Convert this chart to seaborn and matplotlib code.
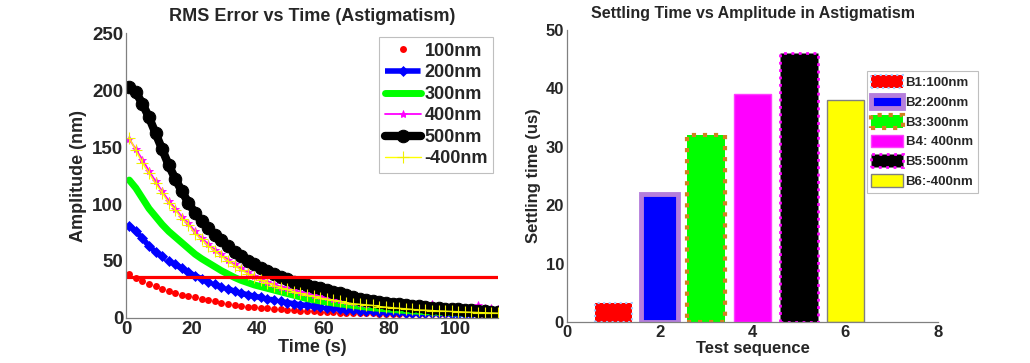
import numpy as np
import pandas as pd
import matplotlib
matplotlib.use("Agg")
import matplotlib.pyplot as plt
import seaborn as sns

# time axis (s), one sample every 2 s
time_s = np.arange(1, 114, 2)

amp_100 = [39, 35, 32.5, 30, 28, 25.5, 23.5, 22, 20.5, 19.5, 18, 17, 16, 14.5, 13.5, 12.5, 11.5, 10.5, 10,
           9.5, 9, 8.5, 8, 7.8, 7.3, 6.9, 6.5, 6.1, 5.8, 5.5, 5.2, 4.9, 4.6, 4.4, 4.3, 4.2, 4.1, 4.0, 3.9,
           3.8, 3.7, 3.6, 3.5, 3.5, 3.4, 3.4, 3.3, 3.3, 3.2, 3.2, 3.2, 3.1, 3.1, 3.0, 3.0, 3.0, 3.0]
amp_200 = [81, 76, 70, 63, 58, 54, 50, 47, 43.5, 40, 37, 34.5, 32, 29.5, 27.5, 25.5, 23.5, 21.5, 20.5,
           19, 18, 17, 15.5, 14.5, 13.5, 12.5, 11.5, 11, 10.2, 9.6, 9, 8.4, 7.8, 7.3, 6.9, 6.5, 6.2, 5.9,
           5.6, 5.4, 5.2, 5.0, 4.8, 4.6, 4.5, 4.3, 4.2, 4.1, 4.0, 3.9, 3.8, 3.7, 3.7, 3.6, 3.6, 3.5, 3.5]
amp_300 = [121, 114, 105, 96, 89, 82, 76, 71, 66, 61, 56, 52, 48.5, 45, 41.5, 38.5, 35.5, 33, 31,
           29, 27.5, 26, 24.5, 23, 21.5, 20, 18.5, 17, 16, 15, 14, 13.2, 12.4, 11.7, 11, 10.3, 9.6, 9,
           8.5, 8, 7.5, 7, 6.6, 6.2, 5.9, 5.6, 5.3, 5.1, 4.9, 4.7, 4.5, 4.4, 4.2, 4.1, 4.0, 3.9, 3.8]
amp_400 = [157, 148, 139, 129, 120, 111, 103, 96, 89, 83, 76, 70, 65, 60, 56, 51, 47, 43.5, 40,
           37, 34.5, 32, 29.5, 27.5, 26, 24.5, 23, 21.5, 20.5, 19, 18, 17, 15.5, 14.5, 14, 13, 12.5, 12,
           11, 11.5, 10, 10.5, 9.5, 9, 10, 11.5, 12.5, 9.5, 9, 10, 9, 8.5, 9, 11, 9, 8.5, 8]
amp_500 = [203, 198, 188, 176, 162, 148, 134, 122, 111, 101, 92, 85, 79, 73, 68, 63, 58, 54, 50,
           47, 44, 41.5, 38.5, 36, 34, 32, 30.5, 29, 27.5, 26, 24.5, 23, 21.5, 20, 18.5, 17, 16, 15,
           14, 13.3, 12.6, 12, 11.5, 10.8, 10.2, 9.6, 9.1, 8.7, 8.3, 7.9, 7.5, 7.1, 6.8, 6.4, 6, 5.6, 5.2]
amp_m400 = [158, 147, 136, 127, 118, 110, 101, 95, 87, 82, 74, 69, 63, 59, 54, 50, 46, 42, 39,
            36, 33, 31, 28.5, 26.5, 25, 23, 21.5, 20, 19, 17.5, 16.5, 15.5, 14.5, 13.5, 12.5, 12, 11.5, 11,
            10, 9.5, 9, 8.5, 8, 7.5, 7, 6.8, 6.5, 6.2, 6, 5.7, 5.5, 5.2, 5, 4.8, 4.6, 4.4, 4.2]
threshold = 36

# bar chart
test_seq = [1, 2, 3, 4, 5, 6]
settle_us = [3.3, 22, 32, 39, 46, 38]
bar_labels = ["B1:100nm", "B2:200nm", "B3:300nm", "B4: 400nm", "B5:500nm", "B6:-400nm"]
bar_colors = ["#ff0000", "#0000ff", "#00ff00", "#ff00ff", "#000000", "#ffff00"]

sns.set_theme(style="white")
plt.rcParams["font.family"] = ["Liberation Sans", "DejaVu Sans"]
plt.rcParams["font.weight"] = "bold"
plt.rcParams["axes.labelweight"] = "bold"
plt.rcParams["axes.titleweight"] = "bold"

fig = plt.figure(figsize=(10.3, 3.63), dpi=100)
ax1 = fig.add_axes([0.1223, 0.124, 0.361, 0.785])
ax2 = fig.add_axes([0.5502, 0.113, 0.3608, 0.804])

# left: RMS error vs time
sns.lineplot(x=time_s, y=amp_100, ax=ax1, color="#ff0000", linestyle="none", marker="o",
             markersize=5, markeredgewidth=0, label="100nm")
sns.lineplot(x=time_s, y=amp_200, ax=ax1, color="#0000ff", linestyle="-.", linewidth=4,
             marker="D", markersize=5.5, markeredgecolor="#0000ff", markeredgewidth=0.5, label="200nm")
sns.lineplot(x=time_s, y=amp_300, ax=ax1, color="#00ff00", linewidth=5, label="300nm")
sns.lineplot(x=time_s, y=amp_400, ax=ax1, color="#ff00ff", linewidth=1.3, marker="*",
             markersize=6, markeredgecolor="#ff00ff", markeredgewidth=0.6, label="400nm")
sns.lineplot(x=time_s, y=amp_500, ax=ax1, color="#000000", linewidth=6, marker="o",
             markersize=9, markeredgecolor="#000000", label="500nm")
sns.lineplot(x=time_s, y=amp_m400, ax=ax1, color="#ffff00", linewidth=1, marker="+",
             markersize=9, markeredgecolor="#f0f000", markeredgewidth=0.8, label="-400nm")
ax1.axhline(threshold, color="#ff0000", linewidth=2.3)

ax1.set_xlim(0, 113)
ax1.set_ylim(0, 250)
ax1.set_xticks([0, 20, 40, 60, 80, 100])
ax1.set_yticks([0, 50, 100, 150, 200, 250])
ax1.set_title("RMS Error vs Time (Astigmatism)", fontsize=13, pad=9)
ax1.set_xlabel("Time (s)", fontsize=13, labelpad=1)
ax1.set_ylabel("Amplitude (nm)", fontsize=13, labelpad=4)
ax1.tick_params(labelsize=13.5, direction="in", length=3, color="#808080", pad=2)
leg1 = ax1.legend(loc="upper right", bbox_to_anchor=(0.479, 0.897), bbox_transform=fig.transFigure,
                  fontsize=13, frameon=True, fancybox=False, handlelength=2.0, borderpad=0.3,
                  labelspacing=0.25, handletextpad=0.2, borderaxespad=0)
leg1.get_frame().set_edgecolor("#b0b0b0")
leg1.get_frame().set_linewidth(0.8)

# right: settling time bars
df = pd.DataFrame({"seq": test_seq, "settle": settle_us, "label": bar_labels})
sns.barplot(data=df, x="seq", y="settle", hue="label", palette=dict(zip(bar_labels, bar_colors)),
            native_scale=True, dodge=False, width=0.8, saturation=1, ax=ax2, legend=False)

edge_styles = [("#a8ccff", 1.5, ":"), ("#b57edc", 3.5, "-"), ("#d2801e", 3, ":"),
               ("#ff40ff", 1, "-"), ("#ff00ff", 2, ":"), ("#808080", 1, "-")]
bars = list(ax2.patches)
for bar, (ec, lw, ls) in zip(bars, edge_styles):
    bar.set_edgecolor(ec)
    bar.set_linewidth(lw)
    bar.set_linestyle(ls)

ax2.set_xlim(0, 8)
ax2.set_ylim(0, 50)
ax2.set_xticks([0, 2, 4, 6, 8])
ax2.set_yticks([0, 10, 20, 30, 40, 50])
ax2.set_title("Settling Time vs Amplitude in Astigmatism", fontsize=11.5, pad=9)
ax2.set_xlabel("Test sequence", fontsize=12, labelpad=1)
ax2.set_ylabel("Settling time (us)", fontsize=12, labelpad=3)
ax2.tick_params(labelsize=12, direction="in", length=3, color="#808080", pad=2)
leg2 = ax2.legend(bars, bar_labels, loc="upper left", bbox_to_anchor=(0.8414, 0.805),
                  bbox_transform=fig.transFigure, fontsize=9.5, frameon=True, fancybox=False,
                  handlelength=2.4, handleheight=1.1, borderpad=0.35, labelspacing=0.45,
                  handletextpad=0.2, borderaxespad=0)
leg2.get_frame().set_edgecolor("#b0b0b0")
leg2.get_frame().set_linewidth(0.8)

for ax in (ax1, ax2):
    sns.despine(ax=ax)
    for side in ("left", "bottom"):
        ax.spines[side].set_color("#808080")
        ax.spines[side].set_linewidth(0.9)

fig.savefig("out.png", dpi=100)
